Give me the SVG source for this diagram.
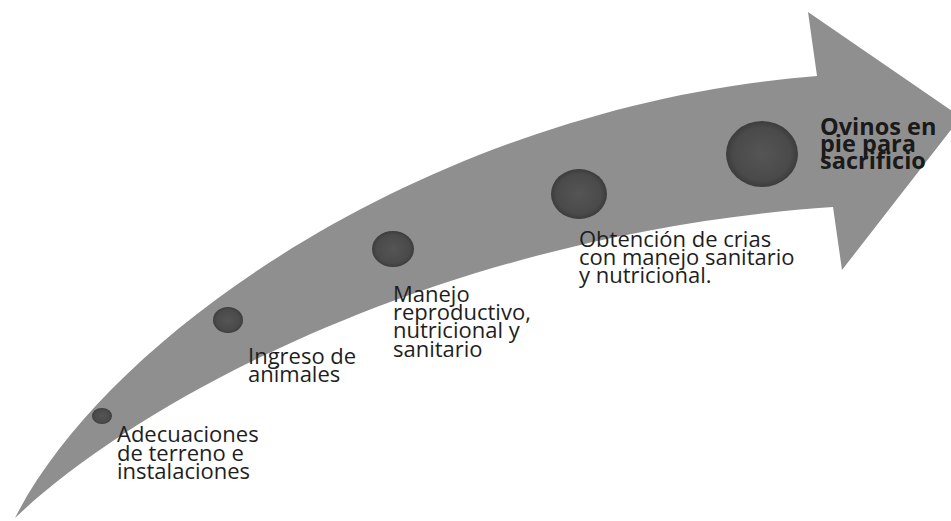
<svg xmlns="http://www.w3.org/2000/svg" width="951" height="521" viewBox="0 0 951 521">
  <style>
    .lbl { font-family: "Open Sans", "Noto Sans", "Liberation Sans", sans-serif; font-size: 22px; fill: #1e1e1e; }
    .lbl-b { font-family: "Open Sans", "Noto Sans", "Liberation Sans", sans-serif; font-size: 23.5px; font-weight: bold; fill: #1a1a1a; }
    .dot { fill: url(#dotGrad); }
    .arrow { fill: #8f8f8f; }
  </style>
  <defs>
    <radialGradient id="dotGrad" cx="0.5" cy="0.5" r="0.5">
      <stop offset="0" stop-color="#555555"/>
      <stop offset="0.8" stop-color="#4a4a4a"/>
      <stop offset="1" stop-color="#3c3c3c"/>
    </radialGradient>
  </defs>
  <rect width="951" height="521" fill="#ffffff"/>
  <g id="timeline-arrow">
    <path class="arrow" d="M15,518 C110,330 440,105 817,76 L808,12 L961,117 L842,270 L833,207 C460,232 150,390 15,518 Z"/>
  </g>
  <g id="connectors"></g>
  <g id="step1">
    <ellipse class="dot" cx="102" cy="416" rx="10" ry="8"/>
    <text class="lbl"><tspan x="117" y="442">Adecuaciones</tspan><tspan x="117" y="461">de terreno e</tspan><tspan x="117" y="479">instalaciones</tspan></text>
  </g>
  <g id="step2">
    <ellipse class="dot" cx="228" cy="320" rx="15" ry="13"/>
    <text class="lbl"><tspan x="248" y="364">Ingreso de</tspan><tspan x="248" y="382">animales</tspan></text>
  </g>
  <g id="step3">
    <ellipse class="dot" cx="393" cy="249" rx="21" ry="18"/>
    <text class="lbl"><tspan x="393" y="302">Manejo</tspan><tspan x="393" y="320">reproductivo,</tspan><tspan x="393" y="338">nutricional y</tspan><tspan x="393" y="357">sanitario</tspan></text>
  </g>
  <g id="step4">
    <ellipse class="dot" cx="579" cy="194" rx="28" ry="25"/>
    <text class="lbl"><tspan x="579" y="247">Obtención de crias</tspan><tspan x="579" y="265">con manejo sanitario</tspan><tspan x="579" y="283">y nutricional.</tspan></text>
  </g>
  <g id="step5">
    <ellipse class="dot" cx="762" cy="154" rx="36" ry="33"/>
    <text class="lbl-b"><tspan x="820" y="135">Ovinos en</tspan><tspan x="820" y="152">pie para</tspan><tspan x="820" y="169">sacrificio</tspan></text>
  </g>
</svg>
